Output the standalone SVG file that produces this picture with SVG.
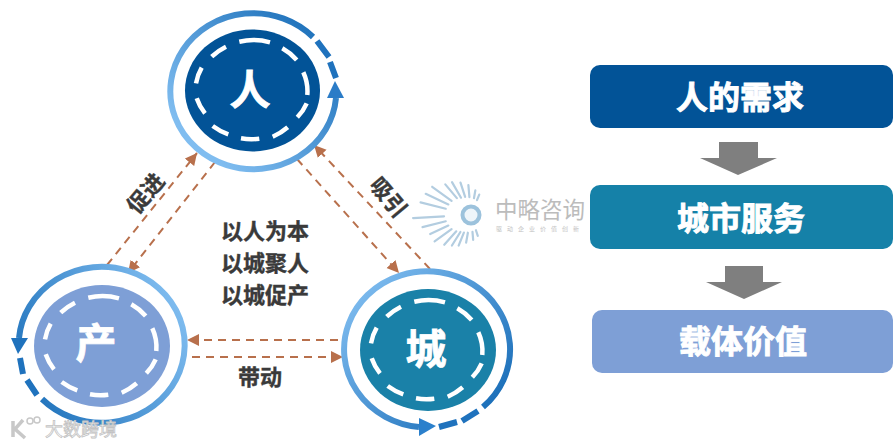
<svg xmlns="http://www.w3.org/2000/svg" width="894" height="446" viewBox="0 0 894 446">
<style>
text{font-family:"Noto Sans CJK SC","Liberation Sans",sans-serif;text-anchor:middle;dominant-baseline:central}
.w{fill:#fff;stroke:#fff;font-weight:700}
.d{fill:#3a3a3a;stroke:#3a3a3a;stroke-width:.4;font-weight:700;font-size:22px}
.big{font-size:41px;stroke-width:.8}
.box{font-size:32px;stroke-width:.9}
.ring{fill:none;stroke-width:6}
.dash{fill:none;stroke:#fff;stroke-width:4.5}
.cn{fill:none;stroke:#b8704c;stroke-width:2;stroke-dasharray:8 6;marker-end:url(#ah)}
.ga{fill:#7f7f7f}
.ray{fill:none;stroke:#b3cde0;stroke-width:2.2;stroke-linecap:round}
.wm{fill:#fff;stroke:#c2c2c2;stroke-width:.8;font-size:18px}
</style>
<defs>
<marker id="ah" markerUnits="userSpaceOnUse" markerWidth="14" markerHeight="14" refX="12" refY="6" orient="auto"><path d="M0 0L12 6L0 12Z" fill="#b8704c"/></marker>
<linearGradient id="g1" gradientUnits="userSpaceOnUse" x1="215" y1="160" x2="335" y2="40"><stop offset="0" stop-color="#80bdf0"/><stop offset="1" stop-color="#1b6fb9"/></linearGradient>
<linearGradient id="g2" gradientUnits="userSpaceOnUse" x1="185" y1="310" x2="20" y2="400"><stop offset="0" stop-color="#80bdf0"/><stop offset="1" stop-color="#1b6fb9"/></linearGradient>
<linearGradient id="g3" gradientUnits="userSpaceOnUse" x1="355" y1="285" x2="490" y2="410"><stop offset="0" stop-color="#80bdf0"/><stop offset="1" stop-color="#1b6fb9"/></linearGradient>
<filter id="soft" x="-10%" y="-10%" width="120%" height="120%"><feGaussianBlur stdDeviation=".5"/></filter>
<path id="dr" class="dash" d="M-13.7-48.3A56 50 0 0 1 17-47.7M29.3-41.7A56 50 0 0 1 43.7-30M50.3-17.7A56 50 0 0 1 54.3 5M53.7 13.3A56 50 0 0 1 44.3 27.3M34.7 37.3A56 50 0 0 1 19.7 46.7M6.3 48.7A56 50 0 0 1-12 48.3M-24.7 44.3A56 50 0 0 1-40.3 36M-48 23.3A56 50 0 0 1-56.3 8.3M-57-6.7A56 50 0 0 1-51.3-22.3M-41.3-33.3A56 50 0 0 1-27-43.3"/>
</defs>
<rect width="894" height="446" fill="#fff"/>
<g id="logo">
<g filter="url(#soft)">
<path class="ray" d="M413 215H444" transform="rotate(-3 471 215)"/>
<path class="ray" d="M421 215H445" transform="rotate(-14 471 215)"/>
<path class="ray" d="M426 215H446" transform="rotate(-25 471 215)"/>
<path class="ray" d="M426 215H447" transform="rotate(-36 471 215)"/>
<path class="ray" d="M431 215H449" transform="rotate(-48 471 215)"/>
<path class="ray" d="M435 215H451" transform="rotate(-58 471 215)"/>
<path class="ray" d="M438 215H452" transform="rotate(-68 471 215)"/>
<path class="ray" d="M443 215H453" transform="rotate(-80 471 215)"/>
<path class="ray" d="M446 215H454" transform="rotate(-95 471 215)"/>
<path class="ray" d="M449 215H455" transform="rotate(-108 471 215)"/>
<path class="ray" d="M419 215H445" transform="rotate(14 471 215)"/>
<path class="ray" d="M421 215H446" transform="rotate(25 471 215)"/>
<path class="ray" d="M423 215H447" transform="rotate(36 471 215)"/>
<path class="ray" d="M431 215H449" transform="rotate(50 471 215)"/>
<path class="ray" d="M433 215H451" transform="rotate(60 471 215)"/>
<path class="ray" d="M437 215H452" transform="rotate(72 471 215)"/>
<path class="ray" d="M441 215H453" transform="rotate(85 471 215)"/>
<path class="ray" d="M446 215H454" transform="rotate(100 471 215)"/>
<path class="ray" d="M449 215H455" transform="rotate(112 471 215)"/>
<circle cx="471" cy="215" r="8.5" fill="#eef5fa" stroke="#9cc2dc" stroke-width="4"/>
</g>
<text x="540" y="208" font-size="22.5" fill="#bcbcbc">中略咨询</text>
<text x="540" y="228" font-size="6" letter-spacing="5" fill="#c4c4c4">驱动企业价值创新</text>
</g>
<g id="connectors">
<path class="cn" d="M107 265L197 153"/>
<path class="cn" d="M215 162L128 273"/>
<path class="cn" d="M297 159L399 273"/>
<path class="cn" d="M430 269L314 145"/>
<path class="cn" d="M338 340L187 340"/>
<path class="cn" d="M192 357L343 357"/>
</g>
<g id="node-ren">
<ellipse cx="252.5" cy="90.5" rx="67.5" ry="61" fill="#025397"/>
<use href="#dr" x="253" y="90"/>
<path class="ring" stroke="url(#g1)" d="M336 98A83 78 0 1 1 313 37"/>
<path class="ring" stroke="#1f72bd" d="M317 41L329 57M330 62L336 78"/>
<path d="M327 98L344 98L335 81Z" fill="#2b7cc7"/>
<text class="w big" x="250" y="87">人</text>
</g>
<g id="node-chan">
<ellipse cx="102" cy="346" rx="68" ry="61" fill="#7e9fd6"/>
<use href="#dr" x="102" y="346"/>
<path class="ring" stroke="url(#g2)" d="M19 338A83 78 0 1 1 42 399"/>
<path class="ring" stroke="#1f72bd" d="M20 358L23 374M27 380L37 395"/>
<path d="M11 338L28 338L18 354Z" fill="#1f72bd"/>
<text class="w big" x="96" y="340">产</text>
</g>
<g id="node-cheng">
<ellipse cx="428" cy="350" rx="68" ry="61" fill="#1a81a8"/>
<use href="#dr" x="428" y="350"/>
<path class="ring" stroke="url(#g3)" d="M419 427A83 78 0 1 1 483 407"/>
<path class="ring" stroke="#1f72bd" d="M439 427L457 422M462 421L478 411"/>
<path d="M419 418L419 436L436 426Z" fill="#2b80cc"/>
<text class="w big" x="426" y="346">城</text>
</g>
<g id="labels">
<text class="d" transform="translate(144 192) rotate(-50)">促进</text>
<text class="d" transform="translate(390 196) rotate(50)">吸引</text>
<text class="d" x="265" y="229">以人为本</text>
<text class="d" x="265" y="261">以城聚人</text>
<text class="d" x="265" y="293">以城促产</text>
<text class="d" x="260" y="375">带动</text>
</g>
<g id="box-need"><rect x="590" y="65" width="303" height="63" rx="10" fill="#025397"/><text class="w box" x="740" y="95">人的需求</text></g>
<g id="box-service"><rect x="590" y="185" width="303" height="64" rx="10" fill="#1581a8"/><text class="w box" x="741" y="216">城市服务</text></g>
<g id="box-value"><rect x="592" y="310" width="301" height="63" rx="10" fill="#7e9fd6"/><text class="w box" x="743" y="339">载体价值</text></g>
<g id="arrows">
<path class="ga" d="M719 142H758V158H777L738 175L700 158H719Z"/>
<path class="ga" d="M725 266H763V282H782L744 299L706 282H725Z"/>
</g>
<g id="watermark">
<text class="wm" x="81" y="428">大数跨境</text>
<path d="M13 421V437M23 420L15 429L25 438" fill="none" stroke="#c8c8c8" stroke-width="3.5"/>
<circle cx="30" cy="421" r="3" fill="none" stroke="#c8c8c8" stroke-width="1.5"/>
<circle cx="37" cy="420" r="3" fill="none" stroke="#c8c8c8" stroke-width="1.5"/>
</g>
</svg>
